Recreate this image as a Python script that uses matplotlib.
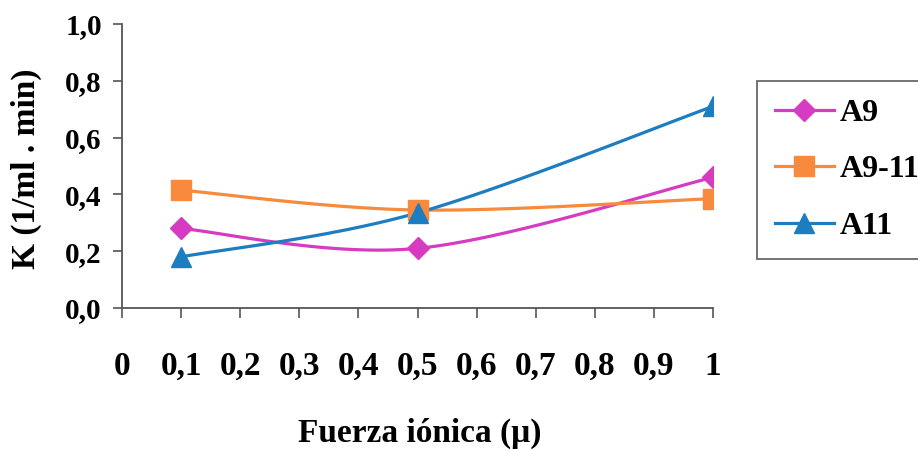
import numpy as np
import matplotlib
matplotlib.use("Agg")
import matplotlib.pyplot as plt
from matplotlib.ticker import FixedLocator

# Ionic strength (x) and rate constants K for each sample
fuerza_ionica = [0.1, 0.5, 1.0]
k_a9 = [0.28, 0.21, 0.46]
k_a9_11 = [0.415, 0.345, 0.385]
k_a11 = [0.18, 0.335, 0.71]

series_names = ["A9", "A9-11", "A11"]
x_ticks = [0.0, 0.1, 0.2, 0.3, 0.4, 0.5, 0.6, 0.7, 0.8, 0.9, 1.0]
x_tick_labels = ["0", "0,1", "0,2", "0,3", "0,4", "0,5", "0,6", "0,7", "0,8", "0,9", "1"]
y_ticks = [0.0, 0.2, 0.4, 0.6, 0.8, 1.0]
y_tick_labels = ["0,0", "0,2", "0,4", "0,6", "0,8", "1,0"]


def smooth_curve(xs, ys, n=60):
    """Piecewise cubic Bezier through the points (spreadsheet-style smoothing)."""
    p = np.column_stack([xs, ys]).astype(float)
    pts = np.vstack([p[0], p, p[-1]])
    out = []
    t = np.linspace(0, 1, n)[:, None]
    for i in range(1, len(pts) - 2):
        p0, p1 = pts[i], pts[i + 1]
        c1 = p0 + (pts[i + 1] - pts[i - 1]) / 6.0
        c2 = p1 - (pts[i + 2] - pts[i]) / 6.0
        seg = ((1 - t) ** 3) * p0 + 3 * ((1 - t) ** 2) * t * c1 + 3 * (1 - t) * t ** 2 * c2 + t ** 3 * p1
        out.append(seg if i == 1 else seg[1:])
    c = np.vstack(out)
    return c[:, 0], c[:, 1]


plt.rcParams["font.family"] = ["Liberation Serif", "DejaVu Serif"]
plt.rcParams["font.weight"] = "bold"

fig = plt.figure(figsize=(9.18, 4.51), dpi=100)
ax = fig.add_axes([122 / 918, 1 - 308 / 451, 591 / 918, 284 / 451])

colors = ["#D63CC2", "#F78A3C", "#1C7DC1"]
markers = ["D", "s", "^"]
msizes = [11, 14, 14]
data = [k_a9, k_a9_11, k_a11]

handles = []
for name, ys, col, mk, ms in zip(series_names, data, colors, markers, msizes):
    sx, sy = smooth_curve(fuerza_ionica, ys)
    ax.plot(sx, sy, color=col, lw=2.3, solid_capstyle="round", zorder=2)
    ax.plot(fuerza_ionica, ys, linestyle="none", marker=mk, markersize=ms,
            markerfacecolor=col, markeredgecolor=col, zorder=3)
    h, = ax.plot([], [], color=col, lw=2.3, marker=mk, markersize=ms,
                 markerfacecolor=col, markeredgecolor=col, label=name)
    handles.append(h)

ax.set_xlim(0, 1)
ax.set_ylim(0, 1)
ax.xaxis.set_major_locator(FixedLocator(x_ticks))
ax.set_xticklabels(x_tick_labels)
ax.yaxis.set_major_locator(FixedLocator(y_ticks))
ax.set_yticklabels(y_tick_labels)

for side in ["top", "right"]:
    ax.spines[side].set_visible(False)
for side in ["left", "bottom"]:
    ax.spines[side].set_color("#555555")
    ax.spines[side].set_linewidth(1.3)

ax.tick_params(axis="x", direction="out", length=7, width=1.2, color="#555555",
               pad=24, labelsize=24)
ax.tick_params(axis="y", direction="out", length=6.5, width=1.2, color="#555555",
               pad=8, labelsize=21)
for lbl in ax.get_xticklabels() + ax.get_yticklabels():
    lbl.set_fontweight("bold")

fig.text(420 / 918, 1 - 442 / 451, "Fuerza iónica (\u03bc)", ha="center", va="baseline",
         fontsize=24, fontweight="bold")
fig.text(26 / 918, 1 - 169 / 451, "K (1/ml . min)", ha="center", va="center",
         rotation=90, fontsize=24, fontweight="bold")

leg = fig.legend(handles=handles, loc="upper left",
                 bbox_to_anchor=(757 / 918, 1 - 81 / 451), borderaxespad=0,
                 fancybox=False, frameon=True,
                 handlelength=1.85, handletextpad=0.2, labelspacing=0.85,
                 borderpad=0.55, prop={"weight": "bold", "size": 23})
leg.get_frame().set_edgecolor("#444444")
leg.get_frame().set_linewidth(1.3)

fig.savefig("out.png", dpi=100)
